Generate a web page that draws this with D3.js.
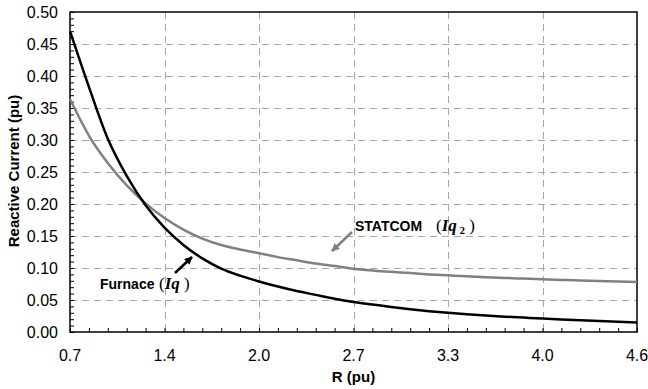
<!DOCTYPE html>
<html>
<head>
<meta charset="utf-8">
<script src="https://cdn.jsdelivr.net/npm/d3@7/dist/d3.min.js"></script>
<style>
  html, body { margin: 0; padding: 0; background: #fff; }
  svg { display: block; font-family: "Liberation Sans", Arial, sans-serif; }
</style>
</head>
<body>
<svg id="chart" width="648" height="389"></svg>
<script>
// ---- data ----
const rValues = [0.70, 0.83, 0.96, 1.09, 1.22, 1.35, 1.48, 1.61, 1.74, 1.87,
                 2.00, 2.13, 2.26, 2.39, 2.52, 2.65, 2.78, 2.91, 3.04, 3.17,
                 3.30, 3.43, 3.56, 3.69, 3.82, 3.95, 4.08, 4.21, 4.34, 4.47, 4.60];
const furnaceIq = [0.470, 0.383, 0.302, 0.244, 0.198, 0.163, 0.136, 0.115, 0.099, 0.088,
                   0.079, 0.071, 0.064, 0.058, 0.052, 0.047, 0.043, 0.039, 0.0355, 0.0325,
                   0.030, 0.0278, 0.0258, 0.024, 0.0225, 0.021, 0.0196, 0.0183, 0.0171, 0.016, 0.015];
const statcomIq2 = [0.364, 0.307, 0.264, 0.229, 0.201, 0.178, 0.160, 0.146, 0.136, 0.129,
                    0.123, 0.117, 0.112, 0.107, 0.103, 0.099, 0.096, 0.094, 0.092, 0.090,
                    0.0885, 0.087, 0.0857, 0.0845, 0.0834, 0.0823, 0.0814, 0.0805, 0.0797, 0.079, 0.078];
const xTickLabels = ["0.7", "1.4", "2.0", "2.7", "3.3", "4.0", "4.6"];
const xTickIndex = [0, 5, 10, 15, 20, 25, 30];
const yMajorTicks = [0, 0.05, 0.10, 0.15, 0.20, 0.25, 0.30, 0.35, 0.40, 0.45, 0.50];

// ---- layout ----
const L = 70, R = 637, T = 12, B = 332;
const svg = d3.select("#chart");
const x = d3.scaleLinear().domain([rValues[0], rValues[rValues.length - 1]]).range([L, R]);
const y = d3.scaleLinear().domain([0, 0.5]).range([B, T]);

// gridlines
const grid = svg.append("g").attr("stroke", "#a6a6a6").attr("stroke-width", 1)
  .attr("stroke-dasharray", "7,5").attr("fill", "none");
yMajorTicks.slice(1, -1).forEach(v => {
  grid.append("line").attr("x1", L).attr("x2", R)
    .attr("y1", Math.round(y(v)) + 0.5).attr("y2", Math.round(y(v)) + 0.5);
});
xTickIndex.slice(1, -1).forEach(i => {
  const px = Math.round(x(rValues[i])) + 0.5;
  grid.append("line").attr("x1", px).attr("x2", px).attr("y1", T).attr("y2", B);
});

// axes (ticks inside)
const yMinor = d3.range(0, 51).map(k => k / 100);
const yAxis = d3.axisRight(y).tickValues(yMinor).tickSize(4).tickFormat("");
svg.append("g").attr("transform", `translate(${L},0)`).call(yAxis)
  .call(g => g.select(".domain").remove())
  .selectAll("line").attr("stroke", "#000").attr("stroke-width", 1);

const xAxis = d3.axisTop(x).tickValues(rValues).tickSize(4).tickFormat("");
svg.append("g").attr("transform", `translate(0,${B})`).call(xAxis)
  .call(g => g.select(".domain").remove())
  .selectAll("line").attr("stroke", "#000").attr("stroke-width", 1);

// y tick labels
svg.append("g").selectAll("text").data(yMajorTicks).join("text")
  .attr("x", 58).attr("y", d => y(d)).attr("dy", "0.36em")
  .attr("text-anchor", "end").attr("font-size", 16).attr("fill", "#000")
  .text(d => d3.format(".2f")(d));

// x tick labels
svg.append("g").selectAll("text").data(xTickIndex).join("text")
  .attr("x", i => x(rValues[i])).attr("y", 361)
  .attr("text-anchor", "middle").attr("font-size", 16).attr("fill", "#000")
  .text((i, k) => xTickLabels[k]);

// frame
svg.append("rect").attr("x", L).attr("y", T).attr("width", R - L).attr("height", B - T)
  .attr("fill", "none").attr("stroke", "#000").attr("stroke-width", 1.5);

// lines
const line = d3.line().x((d, i) => x(rValues[i])).y(d => y(d)).curve(d3.curveMonotoneX);
svg.append("path").datum(statcomIq2).attr("d", line)
  .attr("fill", "none").attr("stroke", "#808080").attr("stroke-width", 2.5);
svg.append("path").datum(furnaceIq).attr("d", line)
  .attr("fill", "none").attr("stroke", "#000").attr("stroke-width", 2.5);

// axis titles
svg.append("text").attr("x", 353.5).attr("y", 382).attr("text-anchor", "middle")
  .attr("font-size", 15).attr("font-weight", "bold").text("R (pu)");
svg.append("text").attr("transform", "translate(19,171) rotate(-90)")
  .attr("text-anchor", "middle").attr("font-size", 15).attr("font-weight", "bold")
  .text("Reactive Current (pu)");

// arrow markers
const defs = svg.append("defs");
[["ahBlack", "#000"], ["ahGray", "#808080"]].forEach(([id, c]) => {
  defs.append("marker").attr("id", id).attr("viewBox", "0 0 10 10")
    .attr("refX", 9).attr("refY", 5).attr("markerWidth", 9).attr("markerHeight", 8)
    .attr("markerUnits", "userSpaceOnUse").attr("orient", "auto")
    .append("path").attr("d", "M0,0 L10,5 L0,10 Z").attr("fill", c);
});

// annotations
svg.append("line").attr("x1", 175).attr("y1", 273).attr("x2", 192).attr("y2", 257)
  .attr("stroke", "#000").attr("stroke-width", 2.5).attr("marker-end", "url(#ahBlack)");
svg.append("line").attr("x1", 352).attr("y1", 232).attr("x2", 332).attr("y2", 251)
  .attr("stroke", "#808080").attr("stroke-width", 2.5).attr("marker-end", "url(#ahGray)");

const fur = svg.append("text").attr("x", 100).attr("y", 289).attr("font-size", 14).attr("font-weight", "bold");
fur.append("tspan").text("Furnace ");
fur.append("tspan").attr("x", 159).attr("font-family", "Liberation Serif").attr("font-weight", "normal")
  .attr("font-size", 17).text("(");
fur.append("tspan").attr("font-family", "Liberation Serif").attr("font-style", "italic")
  .attr("font-size", 17).text("Iq");
fur.append("tspan").attr("font-family", "Liberation Serif").attr("font-weight", "normal")
  .attr("font-size", 17).text(" )");

const st = svg.append("text").attr("x", 355).attr("y", 231).attr("font-size", 14).attr("font-weight", "bold");
st.append("tspan").text("STATCOM");
st.append("tspan").attr("x", 436).attr("font-family", "Liberation Serif").attr("font-weight", "normal")
  .attr("font-size", 17).text("(");
st.append("tspan").attr("font-family", "Liberation Serif").attr("font-style", "italic")
  .attr("font-size", 17).text("Iq");
st.append("tspan").attr("font-family", "Liberation Serif").attr("font-size", 11).attr("dy", 3).text(" 2");
st.append("tspan").attr("font-family", "Liberation Serif").attr("font-weight", "normal")
  .attr("font-size", 17).attr("dy", -3).text(" )");
</script>
</body>
</html>
